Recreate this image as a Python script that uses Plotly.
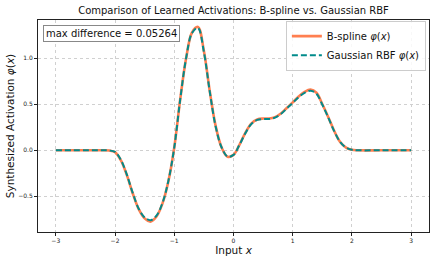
import plotly.graph_objects as go

x_vals = [-3.0, -2.5, -2.2, -2.1, -2.0, -1.9, -1.8, -1.7, -1.6, -1.5, -1.4, -1.3, -1.2, -1.1,
          -1.0, -0.9, -0.8, -0.7, -0.6, -0.5, -0.4, -0.3, -0.2, -0.1, 0.0, 0.1, 0.2, 0.3,
          0.4, 0.5, 0.6, 0.7, 0.8, 0.9, 1.0, 1.1, 1.2, 1.3, 1.4, 1.5, 1.6, 1.7, 1.8, 1.9,
          2.0, 2.1, 2.5, 3.0]
bspline_vals = [0.0, 0.0, 0.0, -0.003, -0.02, -0.11, -0.27, -0.47, -0.64, -0.74, -0.775, -0.72, -0.58, -0.34,
                0.03, 0.55, 1.00, 1.28, 1.34, 1.08, 0.64, 0.26, 0.03, -0.07, -0.05, 0.06, 0.19, 0.29,
                0.335, 0.345, 0.345, 0.36, 0.40, 0.46, 0.52, 0.585, 0.635, 0.66, 0.625, 0.50, 0.36, 0.21, 0.09, 0.03,
                0.005, 0.0, 0.0, 0.0]
rbf_vals = [0.0, 0.0, 0.0, -0.002, -0.018, -0.105, -0.265, -0.465, -0.635, -0.73, -0.76, -0.71, -0.575, -0.335,
            0.03, 0.55, 1.00, 1.275, 1.33, 1.07, 0.635, 0.255, 0.03, -0.068, -0.05, 0.058, 0.185, 0.285,
            0.33, 0.34, 0.34, 0.355, 0.395, 0.455, 0.515, 0.578, 0.625, 0.648, 0.615, 0.495, 0.355, 0.208, 0.09, 0.03,
            0.005, 0.0, 0.0, 0.0]
max_diff_text = "max difference = 0.05264"
title_text = "Comparison of Learned Activations: B-spline vs. Gaussian RBF"

FONT = "DejaVu Sans"

fig = go.Figure()
fig.add_trace(go.Scatter(
    x=x_vals, y=bspline_vals, mode="lines", line_shape="spline",
    name="B-spline <i>φ</i>(<i>x</i>)",
    line=dict(color="#FF7F50", width=2.6),
))
fig.add_trace(go.Scatter(
    x=x_vals, y=rbf_vals, mode="lines", line_shape="spline",
    name="Gaussian RBF <i>φ</i>(<i>x</i>)",
    line=dict(color="#008B8B", width=2, dash="6px,3px"),
))

axis_common = dict(
    showline=True, mirror=True, linecolor="#222", linewidth=1,
    showgrid=True, gridcolor="#d0d0d0", griddash="dot", gridwidth=0.8,
    ticks="outside", ticklen=3, tickcolor="#222", tickwidth=0.8,
    tickfont=dict(family=FONT, size=6, color="#222"),
    zeroline=False, automargin=False,
)

fig.update_layout(
    width=436, height=262,
    margin=dict(l=38, r=7, t=20, b=30),
    paper_bgcolor="white", plot_bgcolor="white",
    font=dict(family=FONT, color="#111"),
    title=dict(text=title_text, x=0.5, xref="paper", xanchor="center", y=1 - 10 / 262, yref="container",
               yanchor="middle", font=dict(family=FONT, size=10, color="#111")),
    xaxis=dict(range=[-3.3, 3.3], tickvals=[-3, -2, -1, 0, 1, 2, 3],
               title=dict(text="Input <i>x</i>", font=dict(family=FONT, size=10.5), standoff=0),
               **axis_common),
    yaxis=dict(range=[-0.888, 1.416], tickvals=[-0.5, 0.0, 0.5, 1.0], tickformat=".1f",
               title=dict(text="Synthesized Activation <i>φ</i>(<i>x</i>)", font=dict(family=FONT, size=10.5), standoff=1),
               **axis_common),
    legend=dict(x=0.992, y=0.997, xanchor="right", yanchor="top",
                bgcolor="rgba(255,255,255,0.85)", bordercolor="#cccccc", borderwidth=1,
                font=dict(family=FONT, size=10), tracegroupgap=0, itemwidth=30),
    showlegend=True,
)

fig.add_annotation(
    x=0.012, y=0.975, xref="paper", yref="paper", xanchor="left", yanchor="top",
    text=max_diff_text, showarrow=False,
    font=dict(family=FONT, size=10, color="#111"),
    bgcolor="white", bordercolor="#888", borderwidth=1, borderpad=2,
)

fig.write_html("out.html", config={"displayModeBar": False},
               post_script="document.body.style.margin='0';document.body.style.padding='0';document.body.style.overflow='hidden';")
